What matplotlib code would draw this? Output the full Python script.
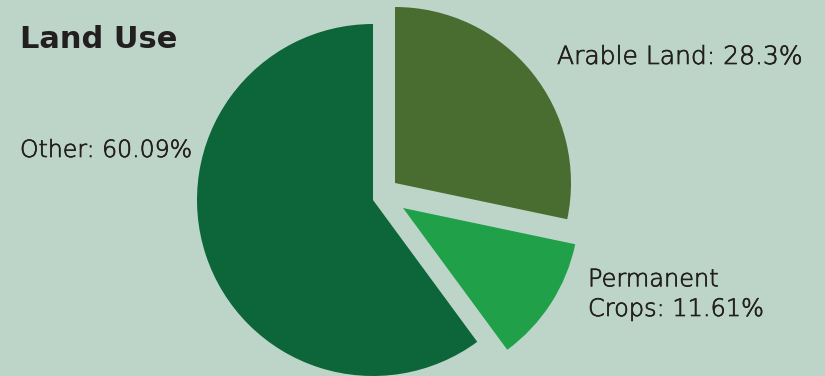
import matplotlib
matplotlib.use("Agg")
import matplotlib.pyplot as plt
import matplotlib.patheffects as pe

# data
categories = ["Arable Land", "Permanent Crops", "Other"]
shares = [28.3, 11.61, 60.09]
label_text = ["Arable Land: 28.3%", "Permanent\nCrops: 11.61%", "Other: 60.09%"]

colors = ["#496C30", "#20A149", "#0D6639"]
bg = "#BDD5C8"
txt = "#231F20"

W, H = 825, 376
fig = plt.figure(figsize=(W / 100, H / 100), dpi=100, facecolor=bg)
ax = fig.add_axes([0, 0, 1, 1])
ax.set_facecolor(bg)

# pie centre at pixel (373, 200), radius 176 px
R = 176.0
cx, cy = 373.0, 200.0

wedges, _ = ax.pie(shares, colors=colors, startangle=90, counterclock=False,
                   radius=1.0, center=(0, 0), frame=True,
                   wedgeprops=dict(linewidth=0))
ax.set_xlim(-cx / R, (W - cx) / R)
ax.set_ylim(-(H - cy) / R, cy / R)
ax.set_aspect("auto")
ax.axis("off")

# pull the two smaller slices out
offsets = [(22 / R, 17 / R), (30 / R, -8 / R), (0, 0)]
for w, (dx, dy) in zip(wedges, offsets):
    w.set_center((dx, dy))

def fx(px):
    return px / W

def fy(py):
    return 1 - py / H

font = "DejaVu Sans"
thick = [pe.withStroke(linewidth=0.5, foreground=txt)]
fig.text(fx(20), fy(48), "Land Use", fontsize=22, fontweight="bold",
         color=txt, family=font, va="baseline", ha="left")
fig.text(fx(20), fy(157), label_text[2], fontsize=17, color=txt,
         family=font, fontweight="light", va="baseline", ha="left",
         path_effects=thick)
fig.text(fx(557), fy(64), label_text[0], fontsize=18, color=txt,
         family=font, fontweight="light", va="baseline", ha="left",
         path_effects=thick)
fig.text(fx(588), fy(316), label_text[1], fontsize=17.3, color=txt,
         family=font, fontweight="light", va="baseline", ha="left",
         linespacing=1.3, path_effects=thick)

fig.savefig("out.png", dpi=100, facecolor=bg)
